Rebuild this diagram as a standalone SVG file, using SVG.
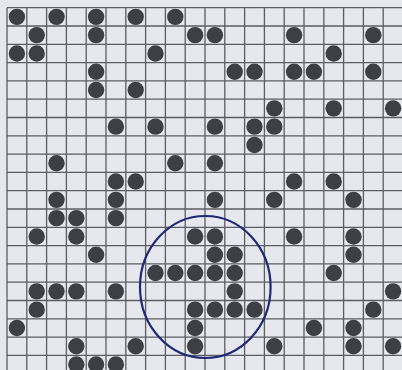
<svg xmlns="http://www.w3.org/2000/svg" width="402" height="370" viewBox="0 0 402 370">
  <style>
    .bg { fill: #e7e8ee; }
    .grid { stroke: #5c5d62; stroke-width: 1.3; fill: none; }
    .dot { fill: #3e3f44; }
    .ring { fill: none; stroke: #1e2a78; stroke-width: 2.2; }
  </style>
  <rect class="bg" x="0" y="0" width="402" height="370"/>
  <g id="grid">
    <path class="grid" d="M7 7.7V370M26.8 7.7V370M46.6 7.7V370M66.4 7.7V370M86.2 7.7V370M106 7.7V370M125.8 7.7V370M145.6 7.7V370M165.4 7.7V370M185.2 7.7V370M205 7.7V370M224.8 7.7V370M244.6 7.7V370M264.4 7.7V370M284.2 7.7V370M304 7.7V370M323.8 7.7V370M343.6 7.7V370M363.4 7.7V370M383.2 7.7V370"/>
    <path class="grid" d="M7 7.7H402M7 26H402M7 44.3H402M7 62.6H402M7 80.9H402M7 99.2H402M7 117.5H402M7 135.8H402M7 154.1H402M7 172.4H402M7 190.7H402M7 209H402M7 227.3H402M7 245.6H402M7 263.9H402M7 282.2H402M7 300.5H402M7 318.8H402M7 337.1H402M7 355.4H402"/>
  </g>
  <g id="dots" class="dot">
    <!-- row 0 -->
    <circle cx="16.9" cy="16.85" r="8.2"/><circle cx="56.5" cy="16.85" r="8.2"/><circle cx="96.1" cy="16.85" r="8.2"/><circle cx="135.7" cy="16.85" r="8.2"/><circle cx="175.3" cy="16.85" r="8.2"/>
    <!-- row 1 -->
    <circle cx="36.7" cy="35.15" r="8.2"/><circle cx="96.1" cy="35.15" r="8.2"/><circle cx="195.1" cy="35.15" r="8.2"/><circle cx="214.9" cy="35.15" r="8.2"/><circle cx="294.1" cy="35.15" r="8.2"/><circle cx="373.3" cy="35.15" r="8.2"/>
    <!-- row 2 -->
    <circle cx="16.9" cy="53.45" r="8.2"/><circle cx="36.7" cy="53.45" r="8.2"/><circle cx="155.5" cy="53.45" r="8.2"/><circle cx="333.7" cy="53.45" r="8.2"/>
    <!-- row 3 -->
    <circle cx="96.1" cy="71.75" r="8.2"/><circle cx="234.7" cy="71.75" r="8.2"/><circle cx="254.5" cy="71.75" r="8.2"/><circle cx="294.1" cy="71.75" r="8.2"/><circle cx="313.9" cy="71.75" r="8.2"/><circle cx="373.3" cy="71.75" r="8.2"/>
    <!-- row 4 -->
    <circle cx="96.1" cy="90.05" r="8.2"/><circle cx="135.7" cy="90.05" r="8.2"/>
    <!-- row 5 -->
    <circle cx="274.3" cy="108.35" r="8.2"/><circle cx="333.7" cy="108.35" r="8.2"/><circle cx="393.1" cy="108.35" r="8.2"/>
    <!-- row 6 -->
    <circle cx="115.9" cy="126.65" r="8.2"/><circle cx="155.5" cy="126.65" r="8.2"/><circle cx="214.9" cy="126.65" r="8.2"/><circle cx="254.5" cy="126.65" r="8.2"/><circle cx="274.3" cy="126.65" r="8.2"/>
    <!-- row 7 -->
    <circle cx="254.5" cy="144.95" r="8.2"/>
    <!-- row 8 -->
    <circle cx="56.5" cy="163.25" r="8.2"/><circle cx="175.3" cy="163.25" r="8.2"/><circle cx="214.9" cy="163.25" r="8.2"/>
    <!-- row 9 -->
    <circle cx="115.9" cy="181.55" r="8.2"/><circle cx="135.7" cy="181.55" r="8.2"/><circle cx="294.1" cy="181.55" r="8.2"/><circle cx="333.7" cy="181.55" r="8.2"/>
    <!-- row 10 -->
    <circle cx="56.5" cy="199.85" r="8.2"/><circle cx="115.9" cy="199.85" r="8.2"/><circle cx="214.9" cy="199.85" r="8.2"/><circle cx="274.3" cy="199.85" r="8.2"/><circle cx="353.5" cy="199.85" r="8.2"/>
    <!-- row 11 -->
    <circle cx="56.5" cy="218.15" r="8.2"/><circle cx="76.3" cy="218.15" r="8.2"/><circle cx="115.9" cy="218.15" r="8.2"/>
    <!-- row 12 -->
    <circle cx="36.7" cy="236.45" r="8.2"/><circle cx="76.3" cy="236.45" r="8.2"/><circle cx="195.1" cy="236.45" r="8.2"/><circle cx="214.9" cy="236.45" r="8.2"/><circle cx="294.1" cy="236.45" r="8.2"/><circle cx="353.5" cy="236.45" r="8.2"/>
    <!-- row 13 -->
    <circle cx="96.1" cy="254.75" r="8.2"/><circle cx="214.9" cy="254.75" r="8.2"/><circle cx="234.7" cy="254.75" r="8.2"/><circle cx="353.5" cy="254.75" r="8.2"/>
    <!-- row 14 -->
    <circle cx="155.5" cy="273.05" r="8.2"/><circle cx="175.3" cy="273.05" r="8.2"/><circle cx="195.1" cy="273.05" r="8.2"/><circle cx="214.9" cy="273.05" r="8.2"/><circle cx="234.7" cy="273.05" r="8.2"/><circle cx="333.7" cy="273.05" r="8.2"/>
    <!-- row 15 -->
    <circle cx="36.7" cy="291.35" r="8.2"/><circle cx="56.5" cy="291.35" r="8.2"/><circle cx="76.3" cy="291.35" r="8.2"/><circle cx="115.9" cy="291.35" r="8.2"/><circle cx="234.7" cy="291.35" r="8.2"/><circle cx="393.1" cy="291.35" r="8.2"/>
    <!-- row 16 -->
    <circle cx="36.7" cy="309.65" r="8.2"/><circle cx="195.1" cy="309.65" r="8.2"/><circle cx="214.9" cy="309.65" r="8.2"/><circle cx="234.7" cy="309.65" r="8.2"/><circle cx="254.5" cy="309.65" r="8.2"/><circle cx="373.3" cy="309.65" r="8.2"/>
    <!-- row 17 -->
    <circle cx="16.9" cy="327.95" r="8.2"/><circle cx="195.1" cy="327.95" r="8.2"/><circle cx="313.9" cy="327.95" r="8.2"/><circle cx="353.5" cy="327.95" r="8.2"/>
    <!-- row 18 -->
    <circle cx="76.3" cy="346.25" r="8.2"/><circle cx="135.7" cy="346.25" r="8.2"/><circle cx="195.1" cy="346.25" r="8.2"/><circle cx="274.3" cy="346.25" r="8.2"/><circle cx="353.5" cy="346.25" r="8.2"/><circle cx="393.1" cy="346.25" r="8.2"/>
    <!-- row 19 -->
    <circle cx="76.3" cy="364.55" r="8.2"/><circle cx="96.1" cy="364.55" r="8.2"/><circle cx="115.9" cy="364.55" r="8.2"/>
  </g>
  <g id="highlight">
    <ellipse class="ring" cx="205.3" cy="287" rx="65.3" ry="71"/>
  </g>
</svg>
